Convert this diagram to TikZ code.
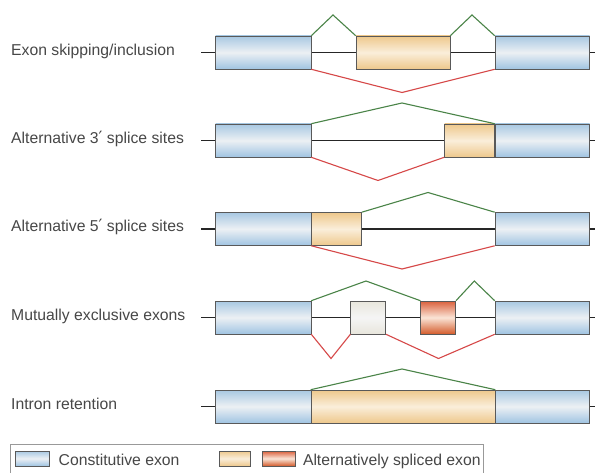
\documentclass[tikz,border=0pt]{standalone}
\usepackage{fontspec}
\setmainfont{Liberation Sans}
\newfontfamily\primefont{DejaVu Sans}
\newcommand{\primemark}{{\primefont\fontsize{17}{18}\selectfont ′}}
\begin{document}
\begin{tikzpicture}[x=1bp,y=-1bp,
  lbl/.style={anchor=base west,inner sep=0,text=black!72,font=\fontsize{15.8}{18}\selectfont},
  exonbase/.style={draw=black!65,line width=0.6bp,inner sep=0,minimum height=33bp},
  const/.style={exonbase,top color=cBlueTop,bottom color=cBlueBot,middle color=cBlueMid},
  alt/.style={exonbase,top color=cOrTop,bottom color=cOrTop,middle color=cOrMid},
  altred/.style={exonbase,top color=cRedTop,bottom color=cRedBot,middle color=cRedMid},
  altpale/.style={exonbase,top color=cPaleTop,bottom color=cPaleTop,middle color=white!96!black},
  intron/.style={line width=1.5bp,black!85},
  incl/.style={line width=1.1bp,cGreen,line join=miter},
  skip/.style={line width=1.1bp,cRed,line join=miter},
  legendline/.style={draw=black!40,line width=0.6bp}
]
\definecolor{cBlueTop}{RGB}{168,200,226}
\definecolor{cBlueMid}{RGB}{236,240,244}
\definecolor{cBlueBot}{RGB}{160,196,226}
\definecolor{cOrTop}{RGB}{238,200,140}
\definecolor{cOrMid}{RGB}{250,238,218}
\definecolor{cRedTop}{RGB}{218,96,60}
\definecolor{cRedMid}{RGB}{250,228,214}
\definecolor{cRedBot}{RGB}{212,92,44}
\definecolor{cPaleTop}{RGB}{232,230,220}
\definecolor{cGreen}{RGB}{74,132,72}
\definecolor{cRed}{RGB}{214,72,72}

\clip (0,0) rectangle (595,473);
\fill[white] (0,0) rectangle (595,473);

% ---------- row 1: exon skipping / inclusion ----------
\node[lbl] (l1) at (11,55.5) {Exon skipping/inclusion};
\coordinate (i1a) at (201,52.5);
\coordinate (i1b) at (595,52.5);
\draw[intron] (i1a) -- (i1b);
\node[const,minimum width=95.5bp] (e1l) at (263.25,52.5) {};
\node[alt,minimum width=94bp] (e1m) at (403,52.5) {};
\node[const,minimum width=94.5bp] (e1r) at (542.25,52.5) {};
\coordinate (p1a) at (333,15);
\coordinate (p1b) at (472,15);
\coordinate (v1) at (402,92.5);
\draw[incl] (e1l.north east) -- (p1a) -- (e1m.north west);
\draw[incl] (e1m.north east) -- (p1b) -- (e1r.north west);
\draw[skip] (e1l.south east) -- (v1) -- (e1r.south west);

% ---------- row 2: alternative 3' splice sites ----------
\node[lbl] (l2) at (11,143.5) {Alternative 3\primemark\ splice sites};
\coordinate (i2a) at (201,140.5);
\coordinate (i2b) at (595,140.5);
\draw[intron] (i2a) -- (i2b);
\node[const,minimum width=95.5bp] (e2l) at (263.25,140.5) {};
\node[alt,minimum width=50bp] (e2m) at (469.5,140.5) {};
\node[const,minimum width=94.5bp] (e2r) at (542.25,140.5) {};
\coordinate (p2) at (402,103);
\coordinate (v2) at (378,180.5);
\draw[incl] (e2l.north east) -- (p2) -- (e2r.north west);
\draw[skip] (e2l.south east) -- (v2) -- (e2m.south west);

% ---------- row 3: alternative 5' splice sites ----------
\node[lbl] (l3) at (11,232) {Alternative 5\primemark\ splice sites};
\coordinate (i3a) at (201,229);
\coordinate (i3b) at (595,229);
\draw[intron] (i3a) -- (i3b);
\node[const,minimum width=95.5bp] (e3l) at (263.25,229) {};
\node[alt,minimum width=50.5bp] (e3m) at (336.25,229) {};
\node[const,minimum width=94.5bp] (e3r) at (542.25,229) {};
\coordinate (p3) at (428,192.5);
\coordinate (v3) at (402,269);
\draw[incl] (e3m.north east) -- (p3) -- (e3r.north west);
\draw[skip] (e3l.south east) -- (v3) -- (e3r.south west);

% ---------- row 4: mutually exclusive exons ----------
\node[lbl] (l4) at (11,320.5) {Mutually exclusive exons};
\coordinate (i4a) at (201,317.5);
\coordinate (i4b) at (595,317.5);
\draw[intron] (i4a) -- (i4b);
\node[const,minimum width=95.5bp] (e4l) at (263.25,317.5) {};
\node[altpale,minimum width=35bp] (e4a) at (368.2,317.5) {};
\node[altred,minimum width=35bp] (e4b) at (438.2,317.5) {};
\node[const,minimum width=94.5bp] (e4r) at (542.25,317.5) {};
\coordinate (p4a) at (366,281);
\coordinate (p4b) at (474.3,281);
\coordinate (v4a) at (331,358.5);
\coordinate (v4b) at (438.5,358.5);
\draw[incl] (e4l.north east) -- (p4a) -- (e4b.north west);
\draw[incl] (e4b.north east) -- (p4b) -- (e4r.north west);
\draw[skip] (e4l.south east) -- (v4a) -- (e4a.south west);
\draw[skip] (e4a.south east) -- (v4b) -- (e4r.south west);

% ---------- row 5: intron retention ----------
\node[lbl] (l5) at (11,409.5) {Intron retention};
\coordinate (i5a) at (201,406.5);
\coordinate (i5b) at (595,406.5);
\draw[intron] (i5a) -- (i5b);
\node[const,minimum width=95.5bp] (e5l) at (263.25,406.5) {};
\node[alt,minimum width=184bp] (e5m) at (403,406.5) {};
\node[const,minimum width=94.5bp] (e5r) at (542.25,406.5) {};
\coordinate (p5) at (402,369);
\draw[incl] (e5m.north west) -- (p5) -- (e5m.north east);

% ---------- legend ----------
\draw[legendline] (10,490) -- (10,444.3) -- (483,444.3) -- (483,490);
\node[exonbase,const,minimum width=33.5bp,minimum height=15bp] (k1) at (32.2,458.5) {};
\node[lbl] (k1t) at (58.5,465) {Constitutive exon};
\node[exonbase,alt,minimum width=31.5bp,minimum height=15bp] (k2) at (234.8,458.5) {};
\node[exonbase,altred,minimum width=33bp,minimum height=15bp] (k3) at (278.5,458.5) {};
\node[lbl] (k3t) at (302.8,465) {Alternatively spliced exon};
\end{tikzpicture}
\end{document}
